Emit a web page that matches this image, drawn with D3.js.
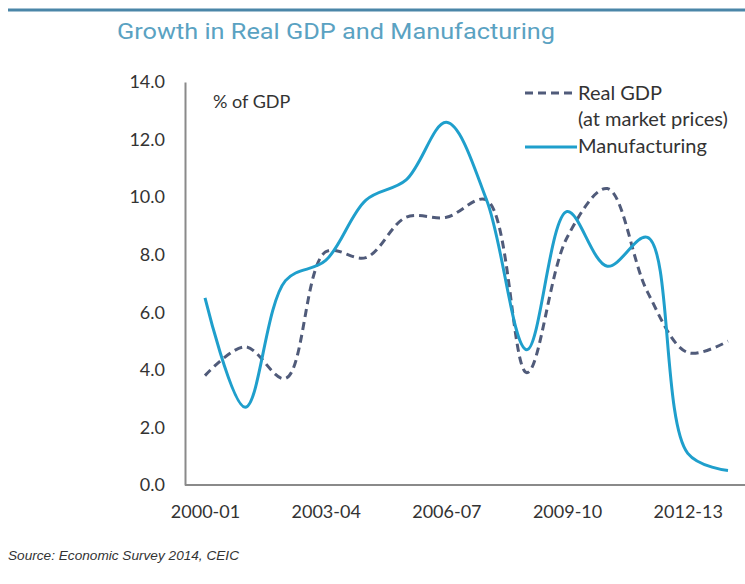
<!DOCTYPE html>
<html>
<head>
<meta charset="utf-8">
<script src="https://cdn.jsdelivr.net/npm/d3@7"></script>
<style>
  body { margin: 0; background: #fff; }
  text { font-family: Lato, "Open Sans", sans-serif; fill: #333; }
</style>
</head>
<body>
<svg id="chart"></svg>
<script>
// data
const years = ['2000-01', '2001-02', '2002-03', '2003-04', '2004-05', '2005-06', '2006-07',
  '2007-08', '2008-09', '2009-10', '2010-11', '2011-12', '2012-13', '2013-14']
const gdp = [3.8, 4.8, 3.7, 8.1, 7.9, 9.3, 9.3, 9.9, 3.9, 8.6, 10.3, 6.7, 4.6, 5.0]
const manufacturing = [6.5, 2.7, 7.1, 7.8, 9.9, 10.6, 12.6, 9.9, 4.7, 9.5, 7.6, 8.6, 1.1, 0.5]
const yTicks = [0, 2, 4, 6, 8, 10, 12, 14]
const xLabels = ['2000-01', '2003-04', '2006-07', '2009-10', '2012-13']

const width = 745
const height = 584
const svg = d3.select('#chart').attr('width', width).attr('height', height)

// top rule and title
svg.append('line')
  .attr('x1', 8).attr('x2', width)
  .attr('y1', 10).attr('y2', 10)
  .attr('stroke', '#4a86a8').attr('stroke-width', 3)
svg.append('text')
  .attr('x', 117).attr('y', 39)
  .attr('font-size', 22)
  .attr('textLength', 438)
  .attr('lengthAdjust', 'spacingAndGlyphs')
  .style('font-family', 'Roboto, sans-serif')
  .style('fill', '#5aa2c2')
  .text('Growth in Real GDP and Manufacturing')

const x = d3.scalePoint().domain(years).range([205, 728])
const y = d3.scaleLinear().domain([0, 14]).range([485, 82])

// axes
const yAxis = svg.append('g').attr('transform', 'translate(185,0)')
  .call(d3.axisLeft(y).tickValues(yTicks).tickFormat(d3.format('.1f')).tickSize(0).tickPadding(20))
yAxis.select('.domain').attr('stroke', '#8a8a8a').attr('stroke-width', 2)
yAxis.selectAll('text').attr('font-size', 18).style('font-family', 'Lato, sans-serif')

const xAxis = svg.append('g').attr('transform', 'translate(0,485)')
  .call(d3.axisBottom(x).tickValues(xLabels).tickSize(0).tickPadding(20))
xAxis.select('.domain').remove()
xAxis.selectAll('text').attr('font-size', 18).style('font-family', 'Lato, sans-serif')
svg.append('line')
  .attr('x1', 185).attr('x2', width)
  .attr('y1', 485).attr('y2', 485)
  .attr('stroke', '#8a8a8a').attr('stroke-width', 2)

svg.append('text')
  .attr('x', 213).attr('y', 108)
  .attr('font-size', 18)
  .text('% of GDP')

// lines
const line = d3.line()
  .x((d, i) => x(years[i]))
  .y(d => y(d))
  .curve(d3.curveCatmullRom.alpha(0.5))

svg.append('path')
  .attr('d', line(gdp))
  .attr('fill', 'none')
  .attr('stroke', '#505b7a')
  .attr('stroke-width', 3)
  .attr('stroke-dasharray', '8,5')

svg.append('path')
  .attr('d', line(manufacturing))
  .attr('fill', 'none')
  .attr('stroke', '#1f9fcc')
  .attr('stroke-width', 3)

// legend
const legend = svg.append('g')
legend.append('line')
  .attr('x1', 525).attr('x2', 572).attr('y1', 93).attr('y2', 93)
  .attr('stroke', '#505b7a').attr('stroke-width', 3).attr('stroke-dasharray', '8,5')
legend.append('text').attr('x', 578).attr('y', 100).attr('font-size', 20).text('Real GDP')
legend.append('text').attr('x', 578).attr('y', 126).attr('font-size', 20).text('(at market prices)')
legend.append('line')
  .attr('x1', 525).attr('x2', 577).attr('y1', 147).attr('y2', 147)
  .attr('stroke', '#1f9fcc').attr('stroke-width', 3)
legend.append('text').attr('x', 578).attr('y', 153).attr('font-size', 20).text('Manufacturing')

// source
svg.append('text')
  .attr('x', 8).attr('y', 560)
  .attr('font-size', 13)
  .attr('textLength', 231)
  .attr('lengthAdjust', 'spacingAndGlyphs')
  .attr('font-style', 'italic')
  .style('font-family', 'Liberation Sans, Arial, sans-serif')
  .text('Source: Economic Survey 2014, CEIC')
</script>
</body>
</html>
